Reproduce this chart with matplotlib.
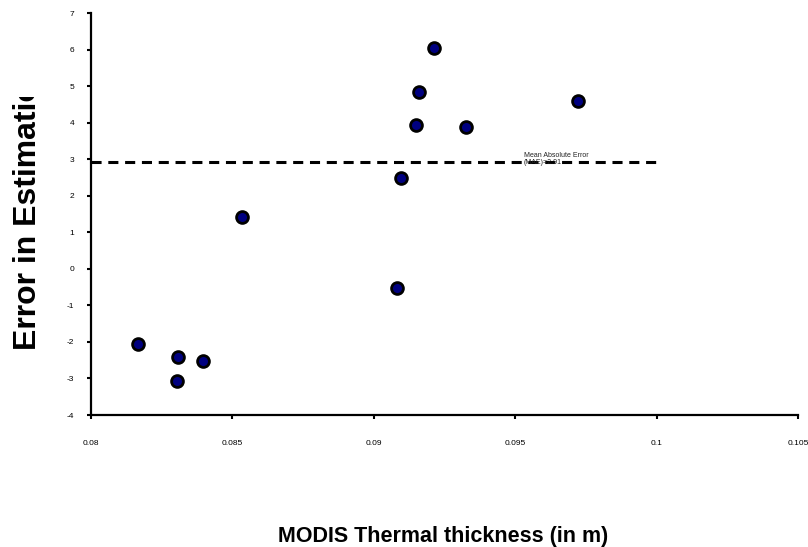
import matplotlib
matplotlib.use("Agg")
import matplotlib.pyplot as plt
from matplotlib.transforms import Bbox, TransformedBbox

# data
thickness = [0.08167, 0.08308, 0.08395, 0.08305, 0.08535, 0.09083,
             0.09096, 0.09213, 0.09161, 0.09148, 0.09326, 0.09721]
error = [-2.06, -2.42, -2.53, -3.08, 1.41, -0.52,
         2.48, 6.03, 4.85, 3.93, 3.89, 4.59]
mae = 2.91
mae_range = [0.08, 0.1]
x_ticks = [0.08, 0.085, 0.09, 0.095, 0.1, 0.105]
x_ticklabels = ["0.08", "0.085", "0.09", "0.095", "0.1", "0.105"]
y_ticks = list(range(-4, 8))

plt.rcParams['font.family'] = ['Liberation Sans', 'DejaVu Sans']
plt.rcParams['axes.unicode_minus'] = False

fig = plt.figure(figsize=(8.08, 5.47), dpi=100)
ax = fig.add_axes([91 / 808, 1 - 415 / 547, 707 / 808, 402 / 547])

ax.plot(mae_range, [mae, mae], color='black', lw=2.2, dashes=(3.3, 2.2))
ax.plot(thickness, error, 'o', ms=8.5, mfc='#000080', mec='black', mew=2,
        clip_on=False, zorder=3)

ax.text(0.09531, 3.2, "Mean Absolute Error\n(MAE)=2.91", fontsize=5,
        va='top', ha='left', linespacing=0.95, color='#222222')

ax.set_xlim(0.08, 0.105)
ax.set_ylim(-4, 7)
ax.set_xticks(x_ticks)
ax.set_xticklabels(x_ticklabels)
ax.set_yticks(y_ticks)

for s in ['top', 'right']:
    ax.spines[s].set_visible(False)
for s in ['left', 'bottom']:
    ax.spines[s].set_linewidth(1.6)
ax.tick_params(axis='both', direction='out', length=3, width=1.5,
               labelsize=6, colors='black')
ax.tick_params(axis='y', pad=9)
ax.tick_params(axis='x', pad=15)

fig.text(443.5 / 808, 5 / 547, "MODIS Thermal thickness (in m)",
         fontsize=15.5, fontweight='bold', ha='center', va='baseline')

ylab = fig.text(28 / 808, 1 - 350 / 547, "Error in Estimation",
                fontsize=23, fontweight='bold', rotation=90,
                ha='center', va='bottom')
clip = TransformedBbox(Bbox([[0, 0], [1, 1 - 97 / 547]]), fig.transFigure)
ylab.set_clip_box(clip)
ylab.set_clip_on(True)

fig.savefig("out.png", dpi=100)
